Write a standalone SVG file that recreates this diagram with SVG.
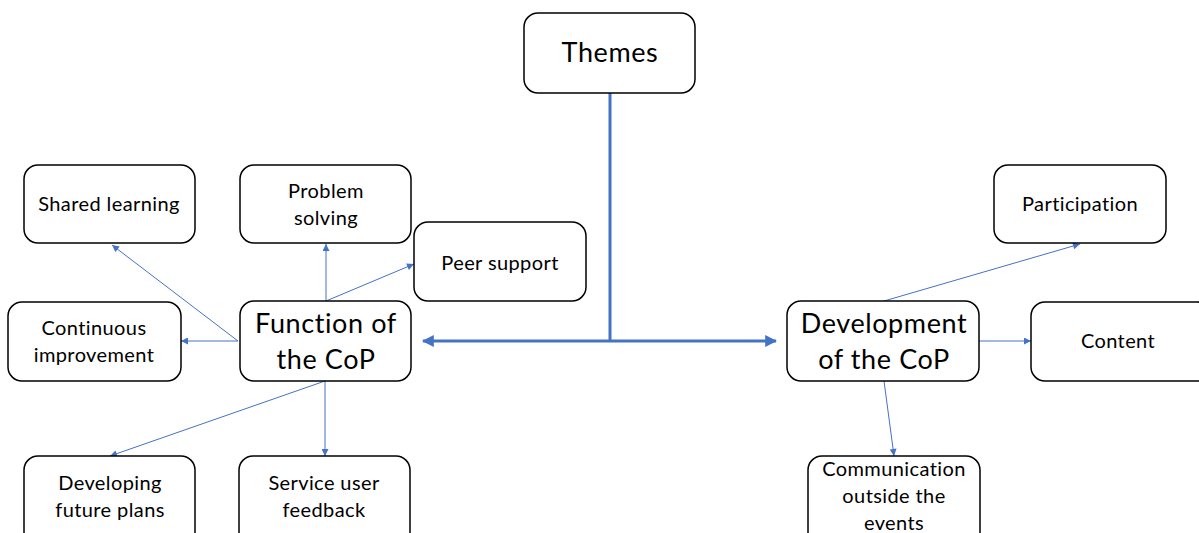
<svg xmlns="http://www.w3.org/2000/svg" width="1199" height="533" viewBox="0 0 1199 533">
<defs>
<style>
.box{fill:#fff;stroke:#000;stroke-width:1.5}
.t{font-family:Lato,"Open Sans",sans-serif;fill:#000;text-anchor:middle}
.s{font-size:20px;letter-spacing:0.4px}
.l{font-size:27px;letter-spacing:0.6px}
.c{stroke:#4472C4;stroke-width:1;fill:none}
.main{stroke:#4472C4;stroke-width:3;fill:none}
</style>
<marker id="a" viewBox="0 0 10 10" refX="10" refY="5" markerWidth="9" markerHeight="7" markerUnits="userSpaceOnUse" orient="auto"><path d="M0,0L10,5L0,10z" fill="#4472C4"/></marker>
<marker id="b" viewBox="0 0 10 10" refX="9" refY="5" markerWidth="12" markerHeight="12" markerUnits="userSpaceOnUse" orient="auto-start-reverse"><path d="M0,0L10,5L0,10z" fill="#4472C4"/></marker>
</defs>
<g id="connectors">
<path class="main" d="M610,93V341"/>
<path class="main" d="M423,341H776" marker-start="url(#b)" marker-end="url(#b)"/>
<path class="c" d="M238,341L112,245" marker-end="url(#a)"/>
<path class="c" d="M238,341H181" marker-end="url(#a)"/>
<path class="c" d="M326,301V244" marker-end="url(#a)"/>
<path class="c" d="M326,301L414,264" marker-end="url(#a)"/>
<path class="c" d="M325,381V456" marker-end="url(#a)"/>
<path class="c" d="M325,381L110,456" marker-end="url(#a)"/>
<path class="c" d="M884,301L1080,244" marker-end="url(#a)"/>
<path class="c" d="M979,341H1031" marker-end="url(#a)"/>
<path class="c" d="M884,381L894,456" marker-end="url(#a)"/>
</g>
<g id="themes"><rect class="box" x="524" y="13" width="171" height="80" rx="14"/><text class="t l" x="610" y="62">Themes</text></g>
<g id="function"><rect class="box" x="240" y="301" width="171" height="80" rx="14"/><text class="t l" x="326" y="333">Function of</text><text class="t l" x="326" y="369">the CoP</text></g>
<g id="development"><rect class="box" x="787" y="301" width="192" height="80" rx="14"/><text class="t l" x="884" y="333">Development</text><text class="t l" x="884" y="369">of the CoP</text></g>
<g id="shared"><rect class="box" x="24" y="165" width="171" height="78" rx="14"/><text class="t s" x="109" y="211">Shared learning</text></g>
<g id="problem"><rect class="box" x="240" y="165" width="171" height="78" rx="14"/><text class="t s" x="326" y="198">Problem</text><text class="t s" x="326" y="225">solving</text></g>
<g id="peer"><rect class="box" x="414" y="222" width="172" height="79" rx="14"/><text class="t s" x="500" y="270">Peer support</text></g>
<g id="continuous"><rect class="box" x="8" y="302" width="173" height="79" rx="14"/><text class="t s" x="94" y="335">Continuous</text><text class="t s" x="94" y="362">improvement</text></g>
<g id="developing"><rect class="box" x="24" y="456" width="171" height="90" rx="14"/><text class="t s" x="110" y="490">Developing</text><text class="t s" x="110" y="517">future plans</text></g>
<g id="service"><rect class="box" x="239" y="456" width="171" height="90" rx="14"/><text class="t s" x="324" y="490">Service user</text><text class="t s" x="324" y="517">feedback</text></g>
<g id="participation"><rect class="box" x="994" y="165" width="172" height="78" rx="14"/><text class="t s" x="1080" y="211">Participation</text></g>
<g id="content"><rect class="box" x="1031" y="302" width="180" height="79" rx="14"/><text class="t s" x="1118" y="348">Content</text></g>
<g id="communication"><rect class="box" x="808" y="456" width="172" height="90" rx="14"/><text class="t s" x="894" y="476">Communication</text><text class="t s" x="894" y="503">outside the</text><text class="t s" x="894" y="530">events</text></g>
</svg>
